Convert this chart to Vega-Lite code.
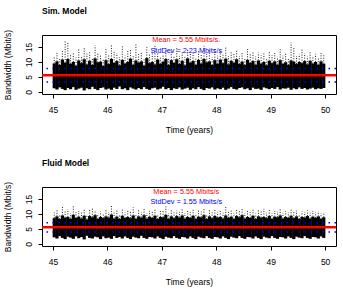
{
"$schema": "https://vega.github.io/schema/vega-lite/v6.json",
"padding": {"left": 2, "top": 6, "right": 5, "bottom": 5},
"spacing": 23,
"config": {
 "view": {"stroke": "black", "strokeWidth": 1},
 "font": "Liberation Sans",
 "axis": {"grid": false, "domain": false, "tickColor": "black", "tickSize": 4, "labelColor": "black", "titleColor": "black", "labelFont": "Liberation Sans", "titleFont": "Liberation Sans", "labelFontSize": 8.5, "titleFontSize": 8.5, "titleFontWeight": "normal"},
 "axisY": {"labelOverlap": false, "labelAngle": 270, "labelAlign": "center", "labelBaseline": "bottom", "labelPadding": 5, "titlePadding": 12},
 "axisX": {"labelPadding": 7, "titlePadding": 12},
 "title": {"font": "Liberation Sans", "fontSize": 8.5, "fontWeight": "bold", "anchor": "start", "frame": "group", "color": "black", "offset": 14}
},
"datasets": {
"stats": [
 {"p": "sim", "mean": 5.55, "sdlo": 3.32, "sdhi": 7.78, "tx": 47.45, "ty1": 17.3, "ty2": 13.7, "l1": "Mean = 5.55 Mbits/s.", "l2": "StdDev =  2.23 Mbits/s"},
 {"p": "fluid", "mean": 5.55, "sdlo": 4.0, "sdhi": 7.1, "tx": 47.45, "ty1": 17.3, "ty2": 14.0, "l1": "Mean = 5.55 Mbits/s", "l2": "StdDev =  1.55 Mbits/s"}
],
"sim": [
{"t":45.025,"lo":1.2,"hi":9.5,"pk":12.0},{"t":45.075,"lo":0.8,"hi":10.2,"pk":13.5},{"t":45.125,"lo":1.5,"hi":9.0,"pk":11.0},{"t":45.175,"lo":1.0,"hi":10.8,"pk":14.0},{"t":45.225,"lo":0.6,"hi":9.8,"pk":17.0},
{"t":45.275,"lo":1.3,"hi":11.0,"pk":16.5},{"t":45.325,"lo":0.9,"hi":9.4,"pk":12.5},{"t":45.375,"lo":1.6,"hi":10.0,"pk":13.0},{"t":45.425,"lo":0.7,"hi":8.8,"pk":11.5},{"t":45.475,"lo":1.1,"hi":10.5,"pk":14.5},
{"t":45.525,"lo":1.4,"hi":9.6,"pk":12.0},{"t":45.575,"lo":0.5,"hi":10.9,"pk":15.0},{"t":45.625,"lo":1.2,"hi":9.2,"pk":12.8},{"t":45.675,"lo":0.9,"hi":10.4,"pk":13.2},{"t":45.725,"lo":1.7,"hi":9.0,"pk":11.4},
{"t":45.775,"lo":1.0,"hi":11.2,"pk":15.5},{"t":45.825,"lo":0.6,"hi":9.9,"pk":13.0},{"t":45.875,"lo":1.3,"hi":10.1,"pk":12.2},{"t":45.925,"lo":1.5,"hi":8.7,"pk":11.0},{"t":45.975,"lo":0.8,"hi":10.6,"pk":14.8},
{"t":46.025,"lo":1.1,"hi":9.3,"pk":12.4},{"t":46.075,"lo":0.7,"hi":11.0,"pk":16.0},{"t":46.125,"lo":1.4,"hi":9.7,"pk":13.6},{"t":46.175,"lo":1.0,"hi":10.3,"pk":12.9},{"t":46.225,"lo":1.8,"hi":8.9,"pk":11.6},
{"t":46.275,"lo":0.9,"hi":10.7,"pk":15.2},{"t":46.325,"lo":1.2,"hi":9.5,"pk":12.1},{"t":46.375,"lo":0.6,"hi":10.0,"pk":13.8},{"t":46.425,"lo":1.5,"hi":11.1,"pk":14.3},{"t":46.475,"lo":1.1,"hi":9.1,"pk":11.9},
{"t":46.525,"lo":0.8,"hi":10.5,"pk":16.3},{"t":46.575,"lo":1.3,"hi":9.8,"pk":12.6},{"t":46.625,"lo":0.9,"hi":10.2,"pk":13.1},{"t":46.675,"lo":1.6,"hi":8.8,"pk":11.2},{"t":46.725,"lo":1.0,"hi":11.3,"pk":14.9},
{"t":46.775,"lo":0.7,"hi":9.6,"pk":12.7},{"t":46.825,"lo":1.2,"hi":10.0,"pk":13.4},{"t":46.875,"lo":1.4,"hi":9.2,"pk":15.8},{"t":46.925,"lo":0.8,"hi":10.8,"pk":13.0},{"t":46.975,"lo":1.1,"hi":9.4,"pk":11.8},
{"t":47.025,"lo":1.7,"hi":10.1,"pk":12.5},{"t":47.075,"lo":0.9,"hi":11.0,"pk":14.6},{"t":47.125,"lo":1.3,"hi":9.0,"pk":11.3},{"t":47.175,"lo":0.6,"hi":10.6,"pk":13.7},{"t":47.225,"lo":1.2,"hi":9.7,"pk":12.2},
{"t":47.275,"lo":1.0,"hi":10.9,"pk":15.1},{"t":47.325,"lo":1.5,"hi":9.3,"pk":12.0},{"t":47.375,"lo":0.8,"hi":10.4,"pk":13.3},{"t":47.425,"lo":1.1,"hi":8.9,"pk":11.7},{"t":47.475,"lo":1.4,"hi":11.2,"pk":14.2},
{"t":47.525,"lo":0.7,"hi":9.8,"pk":12.9},{"t":47.575,"lo":1.2,"hi":10.3,"pk":13.5},{"t":47.625,"lo":0.9,"hi":9.1,"pk":11.4},{"t":47.675,"lo":1.6,"hi":10.7,"pk":14.0},{"t":47.725,"lo":1.0,"hi":9.5,"pk":12.3},
{"t":47.775,"lo":0.6,"hi":11.0,"pk":15.4},{"t":47.825,"lo":1.3,"hi":9.9,"pk":12.8},{"t":47.875,"lo":1.1,"hi":10.2,"pk":13.9},{"t":47.925,"lo":1.5,"hi":9.0,"pk":11.6},{"t":47.975,"lo":0.8,"hi":10.6,"pk":14.4},
{"t":48.025,"lo":1.2,"hi":9.4,"pk":12.1},{"t":48.075,"lo":0.9,"hi":10.8,"pk":13.6},{"t":48.125,"lo":1.4,"hi":9.6,"pk":12.4},{"t":48.175,"lo":0.7,"hi":11.1,"pk":14.8},{"t":48.225,"lo":1.1,"hi":9.2,"pk":11.9},
{"t":48.275,"lo":1.6,"hi":10.4,"pk":13.2},{"t":48.325,"lo":1.0,"hi":9.8,"pk":12.7},{"t":48.375,"lo":0.8,"hi":10.9,"pk":14.1},{"t":48.425,"lo":1.3,"hi":9.3,"pk":12.0},{"t":48.475,"lo":1.5,"hi":10.1,"pk":13.0},
{"t":48.525,"lo":0.9,"hi":9.0,"pk":11.5},{"t":48.575,"lo":1.2,"hi":10.7,"pk":14.3},{"t":48.625,"lo":0.6,"hi":9.7,"pk":12.6},{"t":48.675,"lo":1.4,"hi":10.3,"pk":13.4},{"t":48.725,"lo":1.0,"hi":9.1,"pk":11.8},
{"t":48.775,"lo":1.1,"hi":10.5,"pk":13.1},{"t":48.825,"lo":0.7,"hi":9.5,"pk":12.2},{"t":48.875,"lo":1.5,"hi":10.0,"pk":12.9},{"t":48.925,"lo":1.2,"hi":8.9,"pk":11.3},{"t":48.975,"lo":0.9,"hi":10.4,"pk":13.6},
{"t":49.025,"lo":1.3,"hi":9.6,"pk":12.3},{"t":49.075,"lo":1.0,"hi":10.2,"pk":13.0},{"t":49.125,"lo":1.6,"hi":9.1,"pk":11.7},{"t":49.175,"lo":0.8,"hi":10.6,"pk":14.2},{"t":49.225,"lo":1.2,"hi":9.4,"pk":12.1},
{"t":49.275,"lo":1.1,"hi":9.9,"pk":12.8},{"t":49.325,"lo":1.4,"hi":9.0,"pk":11.4},{"t":49.375,"lo":0.7,"hi":10.5,"pk":16.5},{"t":49.425,"lo":1.2,"hi":10.1,"pk":15.0},{"t":49.475,"lo":0.9,"hi":9.3,"pk":12.0},
{"t":49.525,"lo":1.5,"hi":10.0,"pk":12.6},{"t":49.575,"lo":1.0,"hi":9.6,"pk":14.5},{"t":49.625,"lo":1.3,"hi":10.3,"pk":12.9},{"t":49.675,"lo":0.8,"hi":9.2,"pk":11.8},{"t":49.725,"lo":1.1,"hi":10.4,"pk":13.2},
{"t":49.775,"lo":1.4,"hi":9.5,"pk":12.0},{"t":49.825,"lo":0.9,"hi":10.0,"pk":12.7},{"t":49.875,"lo":1.2,"hi":9.1,"pk":11.5},{"t":49.925,"lo":1.0,"hi":10.2,"pk":13.0},{"t":49.975,"lo":1.3,"hi":9.4,"pk":12.2}
],
"fluid": [
{"t":45.025,"lo":2.2,"hi":8.6,"pk":10.5},{"t":45.075,"lo":1.8,"hi":9.2,"pk":11.2},{"t":45.125,"lo":2.6,"hi":8.3,"pk":9.8},{"t":45.175,"lo":2.0,"hi":9.5,"pk":12.4},{"t":45.225,"lo":1.6,"hi":8.8,"pk":10.9},
{"t":45.275,"lo":2.4,"hi":9.0,"pk":11.6},{"t":45.325,"lo":2.1,"hi":8.4,"pk":10.2},{"t":45.375,"lo":1.7,"hi":9.7,"pk":12.8},{"t":45.425,"lo":2.5,"hi":8.7,"pk":10.6},{"t":45.475,"lo":1.9,"hi":9.1,"pk":11.0},
{"t":45.525,"lo":2.3,"hi":8.5,"pk":10.4},{"t":45.575,"lo":1.5,"hi":9.4,"pk":11.8},{"t":45.625,"lo":2.7,"hi":8.2,"pk":9.9},{"t":45.675,"lo":2.0,"hi":9.3,"pk":11.5},{"t":45.725,"lo":1.8,"hi":8.9,"pk":12.0},
{"t":45.775,"lo":2.4,"hi":9.6,"pk":11.3},{"t":45.825,"lo":2.2,"hi":8.4,"pk":10.1},{"t":45.875,"lo":1.6,"hi":9.0,"pk":10.8},{"t":45.925,"lo":2.5,"hi":8.6,"pk":10.3},{"t":45.975,"lo":1.9,"hi":9.2,"pk":11.7},
{"t":46.025,"lo":2.1,"hi":8.8,"pk":10.6},{"t":46.075,"lo":1.7,"hi":9.8,"pk":13.0},{"t":46.125,"lo":2.6,"hi":8.5,"pk":10.4},{"t":46.175,"lo":2.0,"hi":9.1,"pk":11.1},{"t":46.225,"lo":2.3,"hi":8.3,"pk":9.9},
{"t":46.275,"lo":1.8,"hi":9.4,"pk":11.9},{"t":46.325,"lo":2.5,"hi":8.7,"pk":10.5},{"t":46.375,"lo":2.0,"hi":9.0,"pk":11.2},{"t":46.425,"lo":1.6,"hi":8.6,"pk":10.7},{"t":46.475,"lo":2.4,"hi":9.5,"pk":12.2},
{"t":46.525,"lo":2.1,"hi":8.4,"pk":10.0},{"t":46.575,"lo":1.9,"hi":9.2,"pk":11.4},{"t":46.625,"lo":2.7,"hi":8.8,"pk":10.6},{"t":46.675,"lo":2.0,"hi":9.6,"pk":12.0},{"t":46.725,"lo":1.7,"hi":8.5,"pk":10.3},
{"t":46.775,"lo":2.3,"hi":9.1,"pk":11.0},{"t":46.825,"lo":2.2,"hi":8.7,"pk":10.8},{"t":46.875,"lo":1.8,"hi":9.4,"pk":11.6},{"t":46.925,"lo":2.5,"hi":8.3,"pk":9.8},{"t":46.975,"lo":2.0,"hi":9.0,"pk":11.3},
{"t":47.025,"lo":1.6,"hi":8.9,"pk":10.9},{"t":47.075,"lo":2.4,"hi":9.7,"pk":12.5},{"t":47.125,"lo":2.1,"hi":8.4,"pk":10.2},{"t":47.175,"lo":1.9,"hi":9.2,"pk":11.4},{"t":47.225,"lo":2.6,"hi":8.6,"pk":10.5},
{"t":47.275,"lo":2.0,"hi":9.3,"pk":11.1},{"t":47.325,"lo":1.7,"hi":8.8,"pk":10.7},{"t":47.375,"lo":2.3,"hi":9.5,"pk":11.9},{"t":47.425,"lo":2.2,"hi":8.5,"pk":10.3},{"t":47.475,"lo":1.8,"hi":9.0,"pk":11.0},
{"t":47.525,"lo":2.5,"hi":8.7,"pk":10.6},{"t":47.575,"lo":2.0,"hi":9.4,"pk":11.7},{"t":47.625,"lo":1.6,"hi":8.4,"pk":10.1},{"t":47.675,"lo":2.4,"hi":9.1,"pk":11.2},{"t":47.725,"lo":2.1,"hi":8.9,"pk":10.8},
{"t":47.775,"lo":1.9,"hi":9.6,"pk":12.1},{"t":47.825,"lo":2.6,"hi":8.3,"pk":10.0},{"t":47.875,"lo":2.0,"hi":9.2,"pk":11.3},{"t":47.925,"lo":1.7,"hi":8.6,"pk":10.5},{"t":47.975,"lo":2.3,"hi":9.3,"pk":11.5},
{"t":48.025,"lo":2.2,"hi":8.8,"pk":10.6},{"t":48.075,"lo":1.8,"hi":9.0,"pk":11.0},{"t":48.125,"lo":2.5,"hi":8.5,"pk":10.4},{"t":48.175,"lo":2.0,"hi":9.5,"pk":12.6},{"t":48.225,"lo":1.6,"hi":8.7,"pk":10.7},
{"t":48.275,"lo":2.4,"hi":9.1,"pk":11.1},{"t":48.325,"lo":2.1,"hi":8.4,"pk":10.2},{"t":48.375,"lo":1.9,"hi":9.3,"pk":11.4},{"t":48.425,"lo":2.6,"hi":8.9,"pk":10.9},{"t":48.475,"lo":2.0,"hi":9.6,"pk":11.8},
{"t":48.525,"lo":1.7,"hi":8.5,"pk":10.3},{"t":48.575,"lo":2.3,"hi":9.0,"pk":11.0},{"t":48.625,"lo":2.2,"hi":8.7,"pk":10.6},{"t":48.675,"lo":1.8,"hi":9.4,"pk":11.5},{"t":48.725,"lo":2.5,"hi":8.3,"pk":10.1},
{"t":48.775,"lo":2.0,"hi":9.2,"pk":11.2},{"t":48.825,"lo":1.6,"hi":8.8,"pk":10.8},{"t":48.875,"lo":2.4,"hi":9.0,"pk":11.7},{"t":48.925,"lo":2.1,"hi":8.6,"pk":10.4},{"t":48.975,"lo":1.9,"hi":9.3,"pk":11.3},
{"t":49.025,"lo":2.6,"hi":8.4,"pk":10.2},{"t":49.075,"lo":2.0,"hi":9.1,"pk":11.0},{"t":49.125,"lo":1.7,"hi":8.9,"pk":10.7},{"t":49.175,"lo":2.3,"hi":9.5,"pk":11.6},{"t":49.225,"lo":2.2,"hi":8.5,"pk":10.3},
{"t":49.275,"lo":1.8,"hi":9.0,"pk":10.9},{"t":49.325,"lo":2.5,"hi":8.7,"pk":10.5},{"t":49.375,"lo":2.0,"hi":9.4,"pk":11.4},{"t":49.425,"lo":1.6,"hi":8.6,"pk":10.6},{"t":49.475,"lo":2.4,"hi":9.2,"pk":11.1},
{"t":49.525,"lo":2.1,"hi":8.3,"pk":10.0},{"t":49.575,"lo":1.9,"hi":9.0,"pk":10.8},{"t":49.625,"lo":2.6,"hi":8.8,"pk":10.6},{"t":49.675,"lo":2.0,"hi":9.3,"pk":11.2},{"t":49.725,"lo":1.7,"hi":8.5,"pk":10.4},
{"t":49.775,"lo":2.3,"hi":9.1,"pk":11.0},{"t":49.825,"lo":2.2,"hi":8.7,"pk":10.5},{"t":49.875,"lo":1.8,"hi":9.2,"pk":10.9},{"t":49.925,"lo":2.5,"hi":8.4,"pk":10.2},{"t":49.975,"lo":2.0,"hi":8.9,"pk":10.6}
]
},
"vconcat": [
{
 "title": {"text": "Sim. Model"},
 "width": 294, "height": 59,
 "layer": [
  {"data": {"name": "sim"}, "mark": {"type": "rule", "strokeWidth": 3.2, "color": "black"},
   "encoding": {
    "x": {"field": "t", "type": "quantitative", "scale": {"domain": [44.8, 50.2], "nice": false, "zero": false}, "axis": {"values": [45,46,47,48,49,50], "format": "d", "title": "Time (years)"}},
    "y": {"field": "lo", "type": "quantitative", "scale": {"domain": [-0.7, 19], "nice": false, "zero": false}, "axis": {"values": [0,5,10,15], "format": "d", "title": "Bandwidth (Mbit/s)"}},
    "y2": {"field": "hi"}}},
  {"data": {"name": "sim"}, "mark": {"type": "rule", "strokeWidth": 0.9, "strokeDash": [1, 1.5], "color": "black"},
   "encoding": {"x": {"field": "t", "type": "quantitative", "axis": {"values": [45,46,47,48,49,50], "format": "d", "title": "Time (years)"}}, "y": {"field": "hi", "type": "quantitative", "axis": {"values": [0,5,10,15], "format": "d", "title": "Bandwidth (Mbit/s)"}}, "y2": {"field": "pk"}}},
  {"data": {"name": "stats"}, "transform": [{"filter": "datum.p == 'sim'"}], "mark": {"type": "rule", "color": "blue", "strokeWidth": 1.5, "strokeDash": [1.5, 4.5]},
   "encoding": {"y": {"field": "sdlo", "type": "quantitative", "axis": {"values": [0,5,10,15], "format": "d", "title": "Bandwidth (Mbit/s)"}}}},
  {"data": {"name": "stats"}, "transform": [{"filter": "datum.p == 'sim'"}], "mark": {"type": "rule", "color": "blue", "strokeWidth": 1.5, "strokeDash": [1.5, 4.5]},
   "encoding": {"y": {"field": "sdhi", "type": "quantitative", "axis": {"values": [0,5,10,15], "format": "d", "title": "Bandwidth (Mbit/s)"}}}},
  {"data": {"name": "stats"}, "transform": [{"filter": "datum.p == 'sim'"}], "mark": {"type": "rule", "color": "red", "strokeWidth": 2.6},
   "encoding": {"y": {"field": "mean", "type": "quantitative", "axis": {"values": [0,5,10,15], "format": "d", "title": "Bandwidth (Mbit/s)"}}}},
  {"data": {"name": "stats"}, "transform": [{"filter": "datum.p == 'sim'"}], "mark": {"type": "text", "color": "red", "fontSize": 7.3, "font": "Liberation Sans"},
   "encoding": {"x": {"field": "tx", "type": "quantitative", "axis": {"values": [45,46,47,48,49,50], "format": "d", "title": "Time (years)"}}, "y": {"field": "ty1", "type": "quantitative", "axis": {"values": [0,5,10,15], "format": "d", "title": "Bandwidth (Mbit/s)"}}, "text": {"field": "l1"}}},
  {"data": {"name": "stats"}, "transform": [{"filter": "datum.p == 'sim'"}], "mark": {"type": "text", "color": "blue", "fontSize": 7.3, "font": "Liberation Sans"},
   "encoding": {"x": {"field": "tx", "type": "quantitative", "axis": {"values": [45,46,47,48,49,50], "format": "d", "title": "Time (years)"}}, "y": {"field": "ty2", "type": "quantitative", "axis": {"values": [0,5,10,15], "format": "d", "title": "Bandwidth (Mbit/s)"}}, "text": {"field": "l2"}}}
 ]
},
{
 "title": {"text": "Fluid Model"},
 "width": 294, "height": 59,
 "layer": [
  {"data": {"name": "fluid"}, "mark": {"type": "rule", "strokeWidth": 3.2, "color": "black"},
   "encoding": {
    "x": {"field": "t", "type": "quantitative", "scale": {"domain": [44.8, 50.2], "nice": false, "zero": false}, "axis": {"values": [45,46,47,48,49,50], "format": "d", "title": "Time (years)"}},
    "y": {"field": "lo", "type": "quantitative", "scale": {"domain": [-0.7, 19], "nice": false, "zero": false}, "axis": {"values": [0,5,10,15], "format": "d", "title": "Bandwidth (Mbit/s)"}},
    "y2": {"field": "hi"}}},
  {"data": {"name": "fluid"}, "mark": {"type": "rule", "strokeWidth": 0.9, "strokeDash": [1, 1.5], "color": "black"},
   "encoding": {"x": {"field": "t", "type": "quantitative", "axis": {"values": [45,46,47,48,49,50], "format": "d", "title": "Time (years)"}}, "y": {"field": "hi", "type": "quantitative", "axis": {"values": [0,5,10,15], "format": "d", "title": "Bandwidth (Mbit/s)"}}, "y2": {"field": "pk"}}},
  {"data": {"name": "stats"}, "transform": [{"filter": "datum.p == 'fluid'"}], "mark": {"type": "rule", "color": "blue", "strokeWidth": 1.5, "strokeDash": [1.5, 4.5]},
   "encoding": {"y": {"field": "sdlo", "type": "quantitative", "axis": {"values": [0,5,10,15], "format": "d", "title": "Bandwidth (Mbit/s)"}}}},
  {"data": {"name": "stats"}, "transform": [{"filter": "datum.p == 'fluid'"}], "mark": {"type": "rule", "color": "blue", "strokeWidth": 1.5, "strokeDash": [1.5, 4.5]},
   "encoding": {"y": {"field": "sdhi", "type": "quantitative", "axis": {"values": [0,5,10,15], "format": "d", "title": "Bandwidth (Mbit/s)"}}}},
  {"data": {"name": "stats"}, "transform": [{"filter": "datum.p == 'fluid'"}], "mark": {"type": "rule", "color": "red", "strokeWidth": 2.6},
   "encoding": {"y": {"field": "mean", "type": "quantitative", "axis": {"values": [0,5,10,15], "format": "d", "title": "Bandwidth (Mbit/s)"}}}},
  {"data": {"name": "stats"}, "transform": [{"filter": "datum.p == 'fluid'"}], "mark": {"type": "text", "color": "red", "fontSize": 7.3, "font": "Liberation Sans"},
   "encoding": {"x": {"field": "tx", "type": "quantitative", "axis": {"values": [45,46,47,48,49,50], "format": "d", "title": "Time (years)"}}, "y": {"field": "ty1", "type": "quantitative", "axis": {"values": [0,5,10,15], "format": "d", "title": "Bandwidth (Mbit/s)"}}, "text": {"field": "l1"}}},
  {"data": {"name": "stats"}, "transform": [{"filter": "datum.p == 'fluid'"}], "mark": {"type": "text", "color": "blue", "fontSize": 7.3, "font": "Liberation Sans"},
   "encoding": {"x": {"field": "tx", "type": "quantitative", "axis": {"values": [45,46,47,48,49,50], "format": "d", "title": "Time (years)"}}, "y": {"field": "ty2", "type": "quantitative", "axis": {"values": [0,5,10,15], "format": "d", "title": "Bandwidth (Mbit/s)"}}, "text": {"field": "l2"}}}
 ]
}
]
}
